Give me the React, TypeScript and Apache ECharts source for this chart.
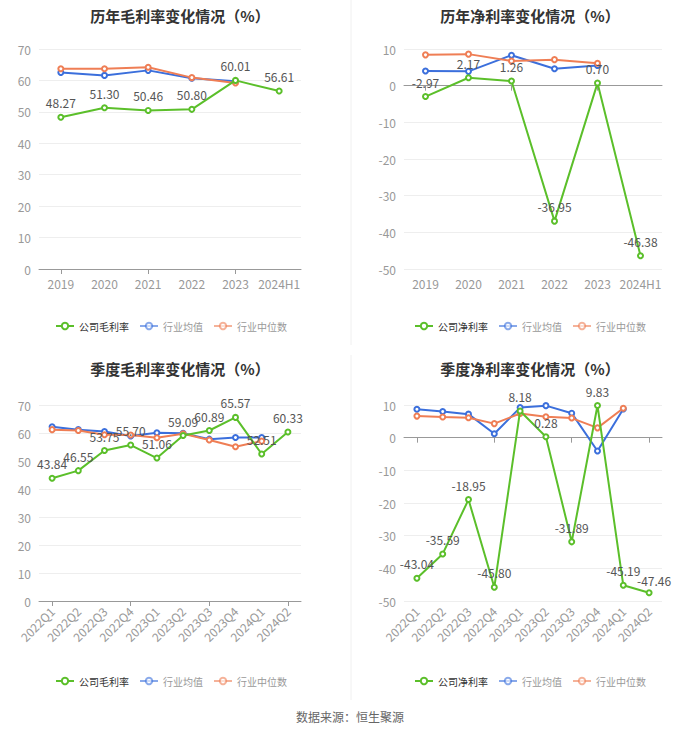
import React, { useEffect, useRef } from "react";
import * as echarts from "echarts";

const yearCats = ["2019", "2020", "2021", "2022", "2023", "2024H1"];
const quarterCats = ["2022Q1", "2022Q2", "2022Q3", "2022Q4", "2023Q1", "2023Q2", "2023Q3", "2023Q4", "2024Q1", "2024Q2"];

const yearGrossCompany = [48.27, 51.3, 50.46, 50.8, 60.01, 56.61];
const yearGrossAvg = [62.5, 61.6, 63.2, 60.7, 59.7, null];
const yearGrossMedian = [63.7, 63.7, 64.2, 60.9, 59.2, null];

const yearNetCompany = [-2.97, 2.17, 1.26, -36.95, 0.7, -46.38];
const yearNetAvg = [4.0, 3.9, 8.3, 4.6, 5.5, null];
const yearNetMedian = [8.4, 8.6, 6.7, 7.1, 6.1, null];

const qGrossCompany = [43.84, 46.55, 53.75, 55.7, 51.06, 59.09, 60.89, 65.57, 52.51, 60.33];
const qGrossAvg = [62.2, 61.2, 60.5, 58.9, 60.1, 59.9, 57.8, 58.4, 58.4, null];
const qGrossMedian = [61.2, 60.9, 59.4, 59.3, 58.3, 59.7, 57.5, 55.1, 57.1, null];

const qNetCompany = [-43.04, -35.59, -18.95, -45.8, 8.18, 0.28, -31.89, 9.83, -45.19, -47.46];
const qNetAvg = [8.7, 8.0, 7.2, 1.2, 9.2, 9.8, 7.5, -4.1, 8.8, null];
const qNetMedian = [6.6, 6.3, 6.1, 4.3, 7.4, 6.4, 6.0, 3.0, 9.0, null];

const titles = ["历年毛利率变化情况（%）", "历年净利率变化情况（%）", "季度毛利率变化情况（%）", "季度净利率变化情况（%）"];
const companyNames = ["公司毛利率", "公司净利率", "公司毛利率", "公司净利率"];
const avgName = "行业均值";
const medianName = "行业中位数";
const sourceText = "数据来源：恒生聚源";

const GREEN = "#5bbf2a";
const BLUE = "#3b6fdc";
const ORANGE = "#ef7e55";
const FONT = "'Noto Sans CJK SC', sans-serif";

export default function App() {
  const ref = useRef<HTMLDivElement>(null);
  useEffect(() => {
    if (!ref.current) return;
    const chart = echarts.init(ref.current, undefined, { renderer: "svg" });

    const panels = [
      { cats: yearCats, comp: yearGrossCompany, avg: yearGrossAvg, med: yearGrossMedian, min: 0, max: 70, grid: { left: 39, top: 49, width: 262, height: 220 }, rotate: 0, cx: 175, lx: 50, titleY: 3, legendY: 316 },
      { cats: yearCats, comp: yearNetCompany, avg: yearNetAvg, med: yearNetMedian, min: -50, max: 10, grid: { left: 404, top: 49, width: 258, height: 220 }, rotate: 0, cx: 525, lx: 409, titleY: 3, legendY: 316 },
      { cats: quarterCats, comp: qGrossCompany, avg: qGrossAvg, med: qGrossMedian, min: 0, max: 70, grid: { left: 39, top: 405, width: 262, height: 196 }, rotate: 45, cx: 175, lx: 50, titleY: 356, legendY: 671 },
      { cats: quarterCats, comp: qNetCompany, avg: qNetAvg, med: qNetMedian, min: -50, max: 10, grid: { left: 404, top: 405, width: 258, height: 196 }, rotate: 45, cx: 525, lx: 409, titleY: 356, legendY: 671 },
    ];

    const grid: any[] = [];
    const xAxis: any[] = [];
    const yAxis: any[] = [];
    const series: any[] = [];
    const title: any[] = [];
    const legend: any[] = [];

    panels.forEach((p, i) => {
      grid.push({ ...p.grid, containLabel: false });
      title.push({
        text: titles[i],
        left: p.cx,
        textAlign: "center",
        top: p.titleY,
        textStyle: { fontSize: 15, fontWeight: "bold", color: "#333", fontFamily: FONT },
      });
      legend.push({
        left: p.lx,
        top: p.legendY,
        orient: "horizontal",
        itemWidth: 18,
        itemHeight: 8,
        itemGap: 10,
        textStyle: { fontSize: 10, fontFamily: FONT },
        data: [
          { name: companyNames[i], textStyle: { color: "#333" } },
          { name: avgName, textStyle: { color: "#999" }, itemStyle: { opacity: 0.6 }, lineStyle: { opacity: 0.6 } },
          { name: medianName, textStyle: { color: "#999" }, itemStyle: { opacity: 0.6 }, lineStyle: { opacity: 0.6 } },
        ],
        selectedMode: false,
      });
      const labelAxisIndex = xAxis.length;
      xAxis.push({
        type: "category",
        gridIndex: i,
        data: p.cats,
        position: "bottom",
        axisLine: { show: false, onZero: false },
        axisTick: { show: false },
        axisLabel: { color: "#999", fontSize: 12, rotate: p.rotate, margin: 8, interval: 0, fontFamily: FONT },
      });
      xAxis.push({
        type: "category",
        gridIndex: i,
        data: p.cats,
        position: "bottom",
        axisLine: { show: true, onZero: true, lineStyle: { color: "#999", width: 1 } },
        axisTick: { show: true, alignWithLabel: true, lineStyle: { color: "#999" } },
        axisLabel: { show: false },
        splitLine: { show: false },
      });
      yAxis.push({
        type: "value",
        gridIndex: i,
        min: p.min,
        max: p.max,
        interval: 10,
        axisLine: { show: false },
        axisTick: { show: false },
        axisLabel: { color: "#999", fontSize: 12, fontFamily: FONT },
        splitLine: { lineStyle: { color: "#eeeeee" } },
      });
      const base = {
        type: "line",
        xAxisIndex: labelAxisIndex,
        yAxisIndex: i,
        symbol: "emptyCircle",
        symbolSize: 5,
      };
      series.push({
        ...base,
        name: avgName,
        data: p.avg,
        itemStyle: { color: BLUE },
        lineStyle: { width: 2, color: BLUE },
        z: 2,
      });
      series.push({
        ...base,
        name: medianName,
        data: p.med,
        itemStyle: { color: ORANGE },
        lineStyle: { width: 2, color: ORANGE },
        z: 3,
      });
      const n = p.comp.length;
      series.push({
        ...base,
        name: companyNames[i],
        data: p.comp.map((v, j) =>
          i === 3 && j === n - 1 ? { value: v, label: { offset: [5, 2] } } : v
        ),
        itemStyle: { color: GREEN },
        lineStyle: { width: 2, color: GREEN },
        label: {
          show: true,
          position: "top",
          color: "#555",
          fontSize: 12,
          fontFamily: FONT,
          formatter: (v: any) => Number(v.value).toFixed(2),
        },
        z: 4,
      });
    });

    chart.setOption({
      animation: false,
      backgroundColor: "#fff",
      textStyle: { fontFamily: FONT },
      title,
      legend,
      grid,
      xAxis,
      yAxis,
      series,
      graphic: [
        { type: "line", shape: { x1: 351, y1: 0, x2: 351, y2: 345 }, style: { stroke: "#f0f0f0", lineWidth: 1 } },
        { type: "line", shape: { x1: 351, y1: 355, x2: 351, y2: 700 }, style: { stroke: "#f0f0f0", lineWidth: 1 } },
        {
          type: "text",
          left: "center",
          top: 710,
          style: { text: sourceText, fill: "#666", fontSize: 12, fontFamily: FONT },
        },
      ],
    });
    return () => chart.dispose();
  }, []);
  return (
    <div
      ref={ref}
      style={{ position: "fixed", left: 0, top: 0, width: 700, height: 734, background: "#fff" }}
    />
  );
}
